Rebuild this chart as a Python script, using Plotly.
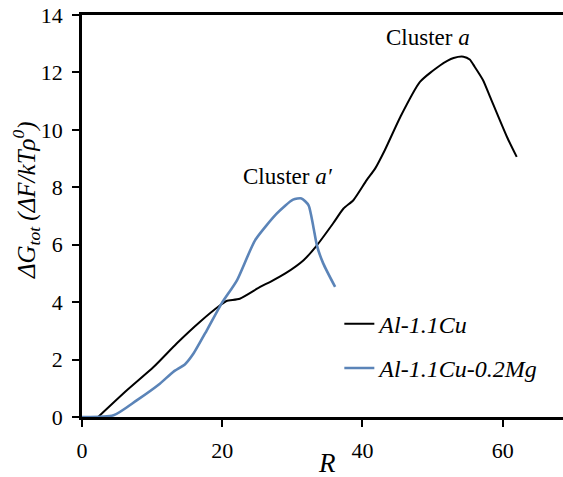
import plotly.graph_objects as go

# Al-1.1Cu (black)
r_cu = [2.3, 6.4, 10.2, 13.5, 16.8, 19.7, 20.6, 22.5, 25.4, 26.8, 29.0, 31.6, 33.5, 35.8,
        37.3, 38.7, 40.6, 41.8, 43.2, 45.4, 48.2, 51.1, 53.0, 54.4, 55.3, 56.0, 57.2, 58.2,
        60.6, 62.0]
g_cu = [0.0, 0.93, 1.74, 2.56, 3.31, 3.89, 4.04, 4.12, 4.53, 4.70, 5.0, 5.46, 5.98, 6.74,
        7.26, 7.55, 8.25, 8.65, 9.3, 10.45, 11.67, 12.25, 12.5, 12.55, 12.45, 12.2, 11.73, 11.15,
        9.76, 9.06]

# Al-1.1Cu-0.2Mg (blue)
r_mg = [0.0, 4.5, 7.8, 11.1, 13.0, 14.7, 15.9, 17.8, 19.9, 22.1, 24.7, 27.8, 30.1, 31.3,
        32.3, 33.0, 33.5, 34.4, 36.1]
g_mg = [0.0, 0.06, 0.58, 1.16, 1.57, 1.84, 2.21, 3.02, 3.95, 4.76, 6.16, 7.09, 7.57, 7.61,
        7.38, 6.62, 5.98, 5.35, 4.53]

x_ticks = [0, 20, 40, 60]
y_ticks = [0, 2, 4, 6, 8, 10, 12, 14]

FONT = "Liberation Serif, Times New Roman, serif"

fig = go.Figure()
fig.add_trace(go.Scatter(x=r_cu, y=g_cu, mode="lines", name="<i>Al-1.1Cu</i>",
                         legendgroup="a",
                         line=dict(color="#000000", width=2, shape="spline", smoothing=0.6)))
fig.add_trace(go.Scatter(x=r_mg, y=g_mg, mode="lines", name="<i>Al-1.1Cu-0.2Mg</i>",
                         legendgroup="b",
                         line=dict(color="#5b84b8", width=2.6, shape="spline", smoothing=0.6)))

fig.add_annotation(x=49.4, y=13.2, text="Cluster <i>a</i>", showarrow=False,
                   font=dict(family=FONT, size=23, color="#000"))
fig.add_annotation(x=29.4, y=8.39, text="Cluster <i>a′</i>", showarrow=False,
                   font=dict(family=FONT, size=23, color="#000"))
fig.add_annotation(xref="paper", yref="paper", x=-0.116, y=0.54,
                   xanchor="center", yanchor="middle",
                   text="<i>ΔG<sub>tot</sub> (ΔF/kTρ<sup>0</sup>)</i>", textangle=-90,
                   showarrow=False, font=dict(family=FONT, size=25, color="#000"))
fig.add_annotation(xref="paper", yref="paper", x=0.51, y=-0.115,
                   xanchor="center", yanchor="middle",
                   text="<i>R</i>", showarrow=False,
                   font=dict(family=FONT, size=27, color="#000"))

# body margin removed by post_script, so the plot area sits at (82..563, 15..417)
fig.update_layout(
    width=563, height=477,
    margin=dict(l=82, r=0, t=15, b=60, autoexpand=False),
    paper_bgcolor="white", plot_bgcolor="white",
    font=dict(family=FONT, size=22, color="#000"),
    showlegend=True,
    legend=dict(x=0.535, y=0.287, xanchor="left", yanchor="top",
                bgcolor="rgba(0,0,0,0)", tracegroupgap=10,
                font=dict(family=FONT, size=24, color="#000")),
    xaxis=dict(range=[0, 68.6], tickvals=x_ticks, showgrid=False, zeroline=False,
               showline=True, linecolor="#000", linewidth=2.5, mirror=True,
               ticks="outside", ticklen=7, tickwidth=2, tickcolor="#000",
               ticklabelstandoff=5, ticklabeloverflow="allow", automargin=False,
               tickfont=dict(family=FONT, size=22)),
    yaxis=dict(range=[0, 14], tickvals=y_ticks, showgrid=False, zeroline=False,
               showline=True, linecolor="#000", linewidth=2.5,
               ticks="outside", ticklen=7, tickwidth=2, tickcolor="#000",
               ticklabelstandoff=5, ticklabeloverflow="allow", automargin=False,
               tickfont=dict(family=FONT, size=22)),
)

fig.write_html("out.html", config={"displayModeBar": False},
               post_script="document.body.style.margin='0';")
